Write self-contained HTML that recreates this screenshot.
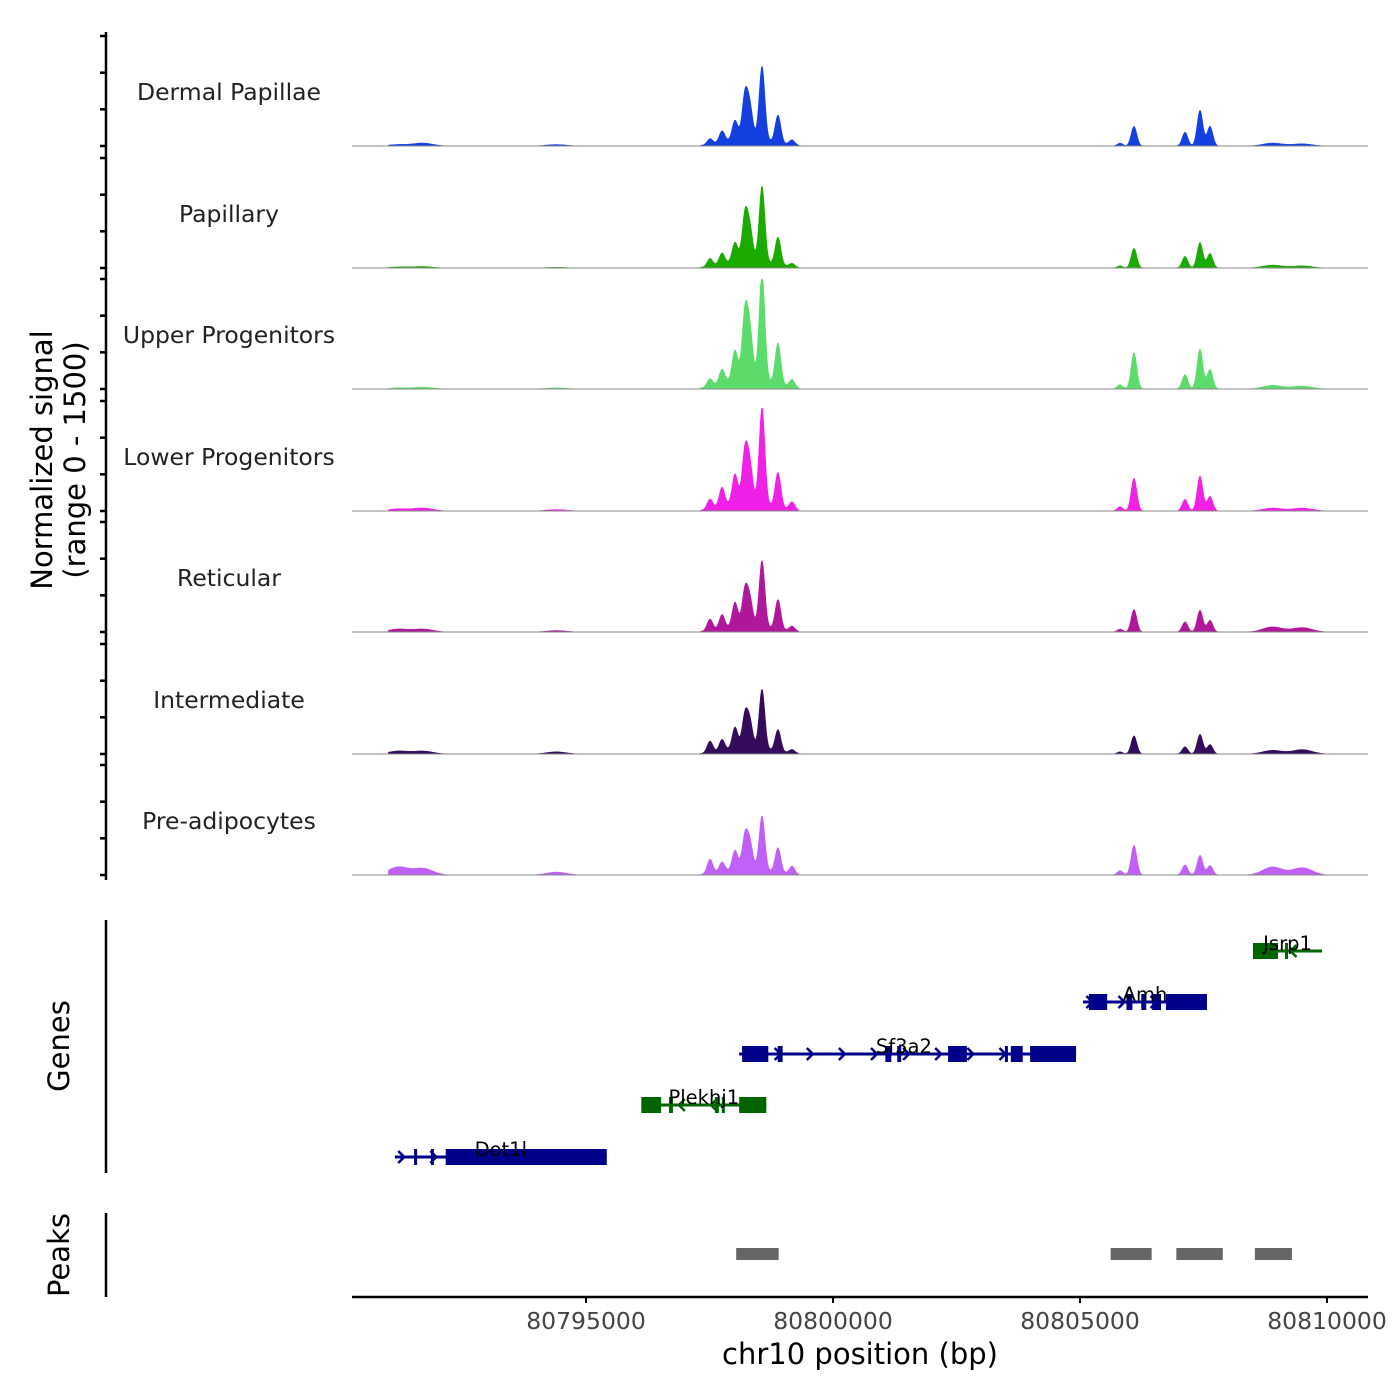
<!DOCTYPE html>
<html><head><meta charset="utf-8"><style>
html,body{margin:0;padding:0;background:#fff;}
svg{display:block;font-family:"DejaVu Sans","Liberation Sans",sans-serif;}
</style></head><body>
<svg id="c" width="1400" height="1400" viewBox="0 0 1400 1400" xmlns="http://www.w3.org/2000/svg">
<g id="tracks"></g>
<g id="genes"></g>
<g id="peaks"></g>
<g id="axes"></g>
<text x="52" y="460" font-size="29" text-anchor="middle" transform="rotate(-90 52 460)" fill="#000">Normalized signal</text>
<text x="85" y="460" font-size="29" text-anchor="middle" transform="rotate(-90 85 460)" fill="#000">(range 0 - 1500)</text>
<text x="69" y="1046" font-size="29" text-anchor="middle" transform="rotate(-90 69 1046)" fill="#000">Genes</text>
<text x="69" y="1255" font-size="29" text-anchor="middle" transform="rotate(-90 69 1255)" fill="#000">Peaks</text>
<text x="860" y="1364" font-size="29" text-anchor="middle" fill="#000">chr10 position (bp)</text>
</svg>
<script>
// ---------- data ----------
const trackNames = ["Dermal Papillae","Papillary","Upper Progenitors","Lower Progenitors","Reticular","Intermediate","Pre-adipocytes"];
const trackColors = ["#1440e0","#1aaa00","#5cdc6a","#f020e6","#b0189c","#340a5a","#c060f6"];
const peakPos = [80797510,80797753,80798016,80798218,80798320,80798563,80798887,80799170,80805810,80806093,80807126,80807429,80807632,80791200,80791700,80794400,80808900,80809500];
const peakDP  = [80,160,270,600,410,1010,380,70,40,270,190,490,270,20,40,20,40,30];
const peakPap = [110,160,270,630,410,1040,380,50,30,270,160,350,200,15,20,10,40,30];
const peakUp  = [110,200,410,890,610,1490,570,110,60,500,200,550,270,15,25,15,50,40];
const peakLow = [140,270,410,710,480,1320,480,110,60,450,160,480,200,30,40,20,40,40];
const peakRet = [160,200,340,490,340,910,410,70,40,310,140,300,160,40,40,20,70,60];
const peakInt = [160,160,300,450,340,820,300,50,30,250,100,270,130,40,40,30,50,60];
const peakPre = [200,140,270,450,340,740,340,110,60,410,140,270,130,110,90,40,110,100];
const trackValues = [peakDP,peakPap,peakUp,peakLow,peakRet,peakInt,peakPre];
const xTicks = [80795000,80800000,80805000,80810000];
const geneNames = ["Jsrp1","Amh","Sf3a2","Plekhj1","Dot1l"];
const geneStart = [80808502,80805060,80798100,80796120,80791130];
const geneEnd   = [80809900,80807570,80804770,80798650,80795420];
const geneStrand= ["-","+","+","-","+"];
const geneExons = [
 [[80808502,80809008],[80809150,80809210]],
 [[80805180,80805550],[80805940,80806060],[80806240,80806340],[80806460,80806640],[80806740,80807570]],
 [[80798160,80798690],[80798880,80798980],[80801060,80801180],[80801300,80801380],[80802330,80802710],[80803480,80803520],[80803600,80803840],[80803990,80804920]],
 [[80796120,80796520],[80796680,80796760],[80797610,80797690],[80797750,80797810],[80798100,80798650]],
 [[80791520,80791580],[80791860,80791920],[80792160,80795420]]
];
const peakStart = [80798040,80805620,80806950,80808540];
const peakEnd   = [80798900,80806450,80807890,80809290];
// ---------- scales ----------
const X0=352,X1=1368,bp0=80790263,pxPerBp=0.0494;
const xs=b=>X0+(b-bp0)*pxPerBp;
const baselines=[146,268,389,511,632,754,875];
const TH=110,maxV=1500;
const NS="http://www.w3.org/2000/svg";
function mk(tag,attrs,parent){const e=document.createElementNS(NS,tag);for(const k in attrs)e.setAttribute(k,attrs[k]);parent.appendChild(e);return e;}
const gT=document.getElementById('tracks'),gG=document.getElementById('genes'),gP=document.getElementById('peaks'),gA=document.getElementById('axes');
trackNames.forEach((nm,t)=>{
  const b=baselines[t],vals=trackValues[t];
  const ys=v=>b-v/maxV*TH;
  let d=`M${xs(80791000).toFixed(1)},${b}`;
  for(let px=xs(80791000);px<=xs(80809950);px+=1){
    const bp=bp0+(px-X0)/pxPerBp;let v=0;
    for(let i=0;i<peakPos.length;i++){const s=i<13?58:200;const dd=(bp-peakPos[i])/s;v+=vals[i]*Math.exp(-dd*dd/2);}
    if(bp>80797300&&bp<80799300){const dd=(bp-80798300)/450;v+=vals[4]*0.25*Math.exp(-dd*dd/2);}
    d+=` L${px.toFixed(1)},${ys(Math.min(v,maxV)).toFixed(1)}`;
  }
  d+=` L${xs(80809950).toFixed(1)},${b} Z`;
  const p=mk('path',{d:d,fill:trackColors[t],stroke:trackColors[t],'stroke-width':0.5},gT);
  
  
  const l=mk('line',{x1:X0,x2:X1,y1:b,y2:b,stroke:'#888','stroke-width':1},gT);
  
  
  const tx=mk('text',{x:229,y:b-46,'font-size':23.5,'text-anchor':'middle',fill:'#222'},gT);tx.textContent=nm;
  
  
  [0,500,1000,1500].forEach(v=>{const tk=mk('line',{x1:100,x2:106,y1:ys(v),y2:ys(v),stroke:'#000','stroke-width':2.5},gA);
    
    });
});
mk('line',{x1:106,x2:106,y1:32,y2:880,stroke:'#000','stroke-width':2.5},gA);
const rowY=[951,1002,1054,1105,1157];
geneNames.forEach((g,i)=>{
  const col=geneStrand[i]=='+'?'#00008b':'#006400';const y=rowY[i];
  const gg=mk('g',{},gG);
  
  
  mk('line',{x1:xs(geneStart[i]),x2:xs(geneEnd[i]),y1:y,y2:y,stroke:col,'stroke-width':3},gg);
  for(let b=geneStart[i]+150;b<geneEnd[i];b+=650){const x=xs(b);const dir=geneStrand[i]=='+'?1:-1;
    mk('path',{d:`M${x-4*dir},${y-6} L${x+2*dir},${y} L${x-4*dir},${y+6}`,fill:'none',stroke:col,'stroke-width':2.5},gg);}
  geneExons[i].forEach(e=>{mk('rect',{x:xs(e[0]),y:y-8,width:Math.max(3,xs(e[1])-xs(e[0])),height:16,fill:col},gg);});
  const tx=mk('text',{x:(xs(geneStart[i])+xs(geneEnd[i]))/2,y:y-1,'font-size':19.5,'text-anchor':'middle',fill:'#000'},gg);tx.textContent=g;
  
  
});
mk('line',{x1:106,x2:106,y1:920,y2:1173,stroke:'#000','stroke-width':2.5},gA);
peakStart.forEach((s,i)=>{const r=mk('rect',{x:xs(s),y:1248,width:xs(peakEnd[i])-xs(s),height:12,fill:'#666'},gP);
  
  });
mk('line',{x1:106,x2:106,y1:1213,y2:1297,stroke:'#000','stroke-width':2.5},gA);
mk('line',{x1:X0,x2:X1,y1:1297,y2:1297,stroke:'#000','stroke-width':2.5},gA);
xTicks.forEach(v=>{mk('line',{x1:xs(v),x2:xs(v),y1:1297,y2:1303,stroke:'#000','stroke-width':2},gA);
  const t=mk('text',{x:xs(v),y:1329,'font-size':23.5,'text-anchor':'middle',fill:'#444'},gA);t.textContent=v;
  
  });
</script>
</body></html>
